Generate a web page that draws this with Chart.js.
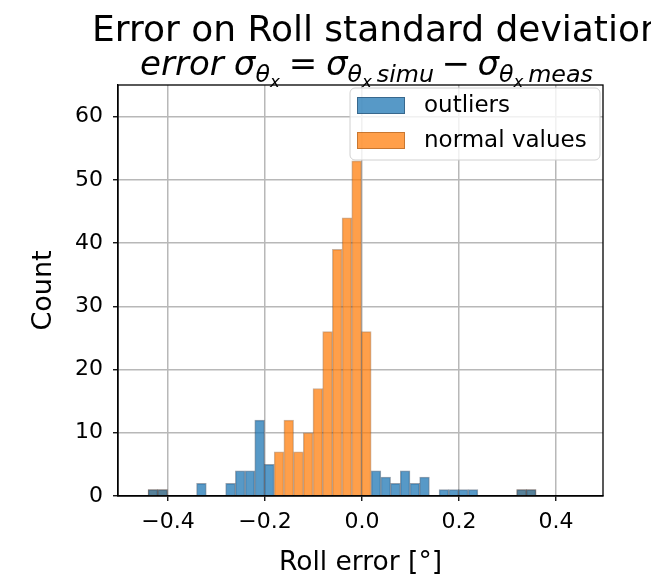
<!DOCTYPE html>
<html>
<head>
<meta charset="utf-8">
<script src="https://cdn.jsdelivr.net/npm/chart.js@4/dist/chart.umd.min.js"></script>
<style>
  html, body { margin: 0; padding: 0; background: #fff; }
  #contenedor { width: 651px; height: 577px; }
</style>
</head>
<body>
<div id="contenedor"><canvas id="histograma"></canvas></div>
<script>
// histogram bins (left edge of first bin, width of each bin)
const binStart = -0.441;
const binWidth = 0.02;
// counts per bin
const outliers =     [1,1,0,0,0,2,0,0,2,4,4,12,5,0,0,0,0,0,0,0,0,0,0,4,3,2,4,2,3,0,1,1,1,1,0,0,0,0,1,1];
const normalValues = [1,1,0,0,0,0,0,0,0,0,0,0,0,7,12,7,10,17,26,39,44,53,26,0,0,0,0,0,0,0,0,0,0,0,0,0,0,0,1,1];
const seriesLabels = ['outliers', 'normal values'];
const xTicks = [-0.4, -0.2, 0, 0.2, 0.4];
const yTicks = [0, 10, 20, 30, 40, 50, 60];
const titleLine1 = 'Error on Roll standard deviation';

const FONT = '"DejaVu Sans", sans-serif';

function toPoints(counts) {
  return counts.map((c, i) => ({ x: binStart + binWidth * (i + 0.5), y: c === 0 ? null : c }));
}

// spines on all four sides
const marco = {
  id: 'marco',
  afterDatasetsDraw(chart) {
    const { ctx, chartArea: a } = chart;
    ctx.save();
    ctx.strokeStyle = '#000';
    ctx.lineWidth = 1.3;
    ctx.strokeRect(a.left, a.top, a.right - a.left, a.bottom - a.top);
    ctx.restore();
  }
};

// legend drawn inside the axes, top right
const leyenda = {
  id: 'leyenda',
  afterDatasetsDraw(chart) {
    const ctx = chart.ctx;
    const x = 350, y = 88, w = 250, h = 72;
    ctx.save();
    ctx.beginPath();
    ctx.roundRect(x, y, w, h, 5);
    ctx.fillStyle = 'rgba(255,255,255,0.8)';
    ctx.fill();
    ctx.strokeStyle = '#d0d0d0';
    ctx.lineWidth = 1;
    ctx.stroke();
    ctx.font = '23px ' + FONT;
    ctx.textBaseline = 'middle';
    ctx.textAlign = 'left';
    chart.data.datasets.forEach((ds, i) => {
      const sy = 97 + i * 35;
      ctx.fillStyle = ds.backgroundColor;
      ctx.fillRect(357, sy, 48, 17);
      ctx.strokeStyle = ds.borderColor;
      ctx.lineWidth = 1;
      ctx.strokeRect(357.5, sy + 0.5, 47, 16);
      ctx.fillStyle = '#000';
      ctx.fillText(ds.label, 424, sy + 9);
    });
    ctx.restore();
  }
};

// two line title, second line in math style
const titulos = {
  id: 'titulos',
  afterDraw(chart) {
    const ctx = chart.ctx;
    const a = chart.chartArea;
    const cx = (a.left + a.right) / 2;
    const F = 34;
    ctx.save();
    ctx.fillStyle = '#000';
    ctx.textBaseline = 'alphabetic';
    ctx.textAlign = 'left';
    ctx.font = '36px ' + FONT;
    ctx.fillText(titleLine1, 92, 41);

    const sig = [
      { t: 'σ', s: 1, it: true, dy: 0 },
      { t: 'θ', s: 0.7, it: true, dy: 0.2 },
      { t: 'x', s: 0.49, it: true, dy: 0.34 }
    ];
    const parts = [
      { t: 'error', s: 1, it: true, dy: 0 }, { gap: 0.3 },
      ...sig, { gap: 0.26 },
      { t: '=', s: 1, it: false, dy: 0 }, { gap: 0.26 },
      ...sig, { gap: 0.14 },
      { t: 'simu', s: 0.7, it: true, dy: 0.2 }, { gap: 0.22 },
      { t: '−', s: 1, it: false, dy: 0 }, { gap: 0.22 },
      ...sig, { gap: 0.14 },
      { t: 'meas', s: 0.7, it: true, dy: 0.2 }
    ];
    const fontOf = p => (p.it ? 'italic ' : '') + (F * p.s) + 'px ' + FONT;
    let total = 0;
    parts.forEach(p => {
      if (p.gap) { total += p.gap * F; return; }
      ctx.font = fontOf(p);
      p.w = ctx.measureText(p.t).width;
      total += p.w;
    });
    let x = cx + 6 - total / 2;
    const base = 75;
    parts.forEach(p => {
      if (p.gap) { x += p.gap * F; return; }
      ctx.font = fontOf(p);
      ctx.fillText(p.t, x, base + p.dy * F);
      x += p.w;
    });
    ctx.restore();
  }
};

const tickFont = { family: FONT, size: 22 };

new Chart(document.getElementById('histograma'), {
  type: 'bar',
  data: {
    datasets: [
      {
        label: seriesLabels[0],
        data: toPoints(outliers),
        backgroundColor: 'rgba(31,119,180,0.75)',
        borderColor: 'rgba(20,45,70,0.45)',
        borderWidth: 1,
        borderSkipped: 'start',
        grouped: false,
        barPercentage: 1,
        categoryPercentage: 1
      },
      {
        label: seriesLabels[1],
        data: toPoints(normalValues),
        backgroundColor: 'rgba(255,127,14,0.75)',
        borderColor: 'rgba(120,60,10,0.4)',
        borderWidth: 1,
        borderSkipped: 'start',
        grouped: false,
        barPercentage: 1,
        categoryPercentage: 1
      }
    ]
  },
  options: {
    responsive: true,
    maintainAspectRatio: false,
    animation: false,
    devicePixelRatio: 1,
    layout: { padding: { top: 85, right: 48, bottom: 0, left: 0 } },
    plugins: {
      legend: { display: false },
      tooltip: { enabled: false }
    },
    scales: {
      x: {
        type: 'linear',
        min: -0.503,
        max: 0.497,
        offset: false,
        afterBuildTicks: s => { s.ticks = xTicks.map(v => ({ value: v })); },
        afterFit: s => { s.height = 81; },
        ticks: {
          font: tickFont,
          color: '#000',
          padding: 8,
          maxRotation: 0,
          callback: v => (v < 0 ? '−' : '') + Math.abs(v).toFixed(1)
        },
        grid: { offset: false, color: '#b8b8b8', lineWidth: 1.5, tickColor: '#000', tickLength: 5, tickWidth: 1.3 },
        border: { color: '#000', width: 1.3 },
        title: { display: true, text: 'Roll error [°]', color: '#000', font: { family: FONT, size: 26.5, lineHeight: 1 }, padding: { top: 0, bottom: 1 } }
      },
      y: {
        type: 'linear',
        min: 0,
        max: 65,
        afterBuildTicks: s => { s.ticks = yTicks.map(v => ({ value: v })); },
        afterFit: s => { s.width = 118; },
        ticks: { font: tickFont, color: '#000', padding: 10 },
        grid: { color: '#b8b8b8', lineWidth: 1.5, tickColor: '#000', tickLength: 5, tickWidth: 1.3 },
        border: { color: '#000', width: 1.3 },
        title: { display: true, text: 'Count', color: '#000', font: { family: FONT, size: 27, lineHeight: 1 }, padding: { top: 30, bottom: 0 } }
      }
    }
  },
  plugins: [marco, leyenda, titulos]
});
</script>
</body>
</html>
